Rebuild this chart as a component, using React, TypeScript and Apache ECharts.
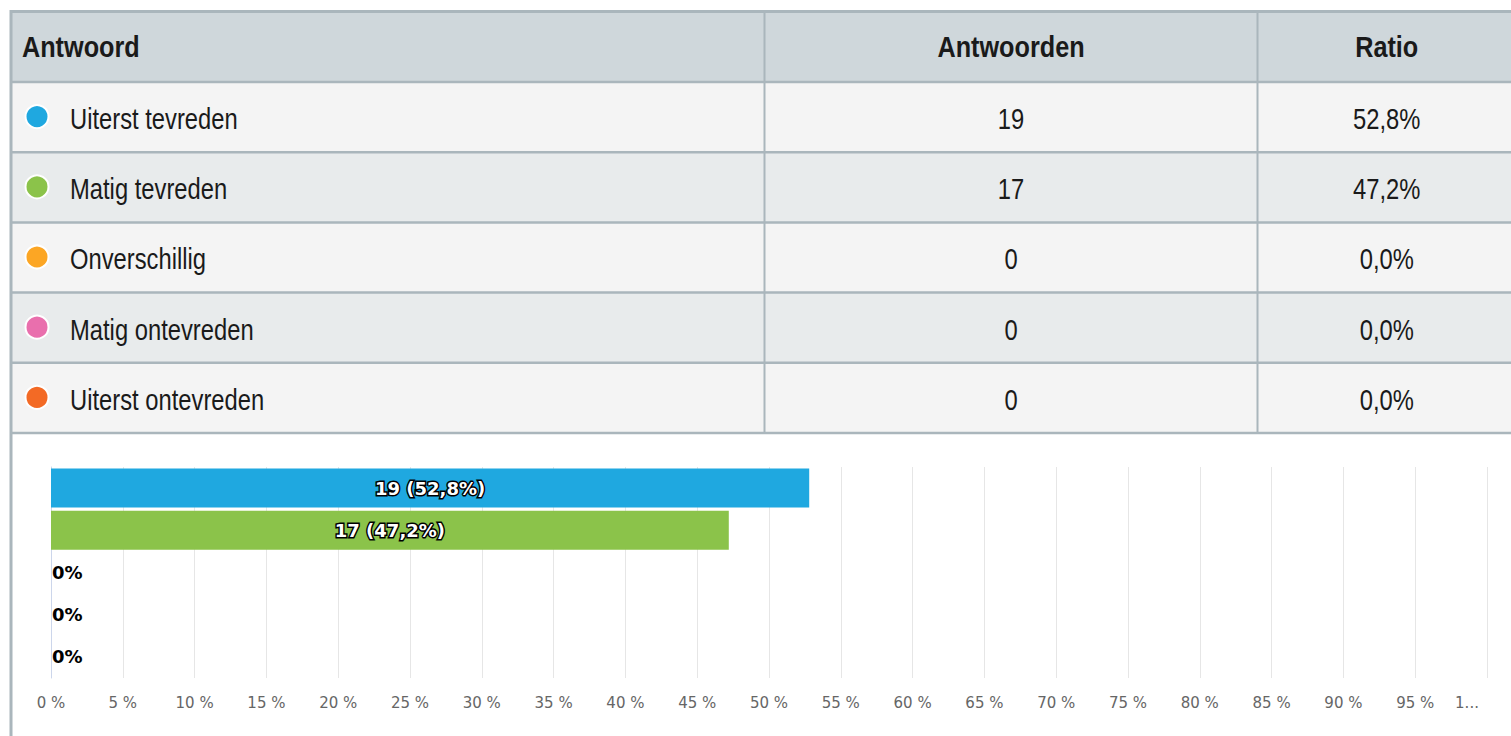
import React, { useEffect, useRef } from "react";
import * as echarts from "echarts";

const headers = ["Antwoord", "Antwoorden", "Ratio"];
const categories = [
  "Uiterst tevreden",
  "Matig tevreden",
  "Onverschillig",
  "Matig ontevreden",
  "Uiterst ontevreden",
];
const counts = [19, 17, 0, 0, 0];
const ratios = [52.8, 47.2, 0, 0, 0];
const colors = ["#1fa8e0", "#8bc34a", "#fca624", "#e96fad", "#f36a25"];
const tickLabels = [
  "0 %", "5 %", "10 %", "15 %", "20 %", "25 %", "30 %", "35 %", "40 %", "45 %", "50 %",
  "55 %", "60 %", "65 %", "70 %", "75 %", "80 %", "85 %", "90 %", "95 %", "1...",
];

const fmtRatio = (v: number) => v.toFixed(1).replace(".", ",") + "%";

const BORDER = "#aab6bc";
const TFONT = "'Liberation Sans', Arial, sans-serif";

function buildTable() {
  const els: any[] = [];
  const left = 10;
  const top = 10;
  const headerH = 72;
  const rowH = 70.2;
  const col1 = 764.5;
  const col2 = 1257.5;
  const tableRight = 1520;
  const tableBottom = top + headerH + rowH * categories.length;

  els.push({
    type: "rect",
    shape: { x: left, y: top, width: tableRight - left, height: headerH },
    style: { fill: "#cfd7db" },
  });
  categories.forEach((_, i) => {
    els.push({
      type: "rect",
      shape: { x: left, y: top + headerH + i * rowH, width: tableRight - left, height: rowH },
      style: { fill: i % 2 === 0 ? "#f4f4f4" : "#e8ebec" },
    });
  });
  const hy = [top + 1.5, top + headerH];
  categories.forEach((_, i) => hy.push(top + headerH + (i + 1) * rowH));
  hy.forEach((y, i) => {
    els.push({
      type: "line",
      shape: { x1: left, y1: y, x2: 1511, y2: y },
      style: { stroke: BORDER, lineWidth: i === 0 ? 3 : 2.5 },
    });
  });
  els.push({
    type: "line",
    shape: { x1: left + 1, y1: top, x2: left + 1, y2: 736 },
    style: { stroke: BORDER, lineWidth: 3 },
  });
  [col1, col2].forEach((x) => {
    els.push({
      type: "line",
      shape: { x1: x, y1: top, x2: x, y2: tableBottom },
      style: { stroke: BORDER, lineWidth: 2 },
    });
  });

  const hCy = top + headerH / 2 + 1;
  const hx = [22, (col1 + col2) / 2, (col2 + tableRight) / 2 - 2];
  const hAlign = ["left", "center", "center"];
  headers.forEach((h, i) => {
    els.push({
      type: "text",
      x: hx[i],
      y: hCy,
      scaleX: 0.87,
      style: {
        text: h,
        fill: "#1a1a1a",
        fontSize: 29,
        fontWeight: "bold",
        fontFamily: TFONT,
        align: hAlign[i],
        textAlign: hAlign[i],
        verticalAlign: "middle",
        textVerticalAlign: "middle",
      },
    });
  });

  categories.forEach((c, i) => {
    const cy = top + headerH + i * rowH + rowH / 2;
    els.push({
      type: "circle",
      shape: { cx: 37, cy: cy - 0.5, r: 11.5 },
      style: { fill: colors[i], stroke: "#ffffff", lineWidth: 2 },
    });
    const cells = [c, String(counts[i]), fmtRatio(ratios[i])];
    const xs = [70, hx[1], hx[2]];
    cells.forEach((t, j) => {
      els.push({
        type: "text",
        x: xs[j],
        y: cy + 2,
        scaleX: 0.82,
        style: {
          text: t,
          fill: "#1a1a1a",
          fontSize: 29,
          fontFamily: TFONT,
          align: hAlign[j],
          textAlign: hAlign[j],
          verticalAlign: "middle",
          textVerticalAlign: "middle",
        },
      });
    });
  });
  return els;
}

export default function App() {
  const ref = useRef<HTMLDivElement>(null);
  useEffect(() => {
    if (!ref.current) return;
    const chart = echarts.init(ref.current, null, { renderer: "svg" });
    const data = ratios.map((v, i) => {
      const nonZero = counts[i] > 0;
      return {
        value: v,
        itemStyle: { color: colors[i] },
        label: nonZero
          ? {
              position: "inside",
              formatter: `${counts[i]} (${fmtRatio(ratios[i])})`,
              color: "#ffffff",
              textBorderColor: "#000000",
              textBorderWidth: 3,
            }
          : {
              position: "right",
              distance: 1,
              formatter: "0%",
              color: "#000000",
              textBorderWidth: 0,
            },
      };
    });
    chart.setOption({
      animation: false,
      backgroundColor: "#ffffff",
      textStyle: { fontFamily: "'DejaVu Sans', sans-serif" },
      graphic: { elements: buildTable() },
      grid: { left: 51, right: 24, top: 467, height: 211, containLabel: false },
      xAxis: {
        type: "value",
        min: 0,
        max: 100,
        interval: 5,
        axisLine: { show: false },
        axisTick: { show: false },
        splitLine: { show: true, lineStyle: { color: "#e6e6e6", width: 1 } },
        axisLabel: {
          color: "#666666",
          fontSize: 15,
          margin: 17,
          fontFamily: "'DejaVu Sans', sans-serif",
          formatter: (v: number) => {
            const idx = Math.round(v / 5);
            return idx === tickLabels.length - 1
              ? `{last|${tickLabels[idx]}}`
              : tickLabels[idx];
          },
          rich: {
            last: {
              color: "#666666",
              fontSize: 15,
              fontFamily: "'DejaVu Sans', sans-serif",
              padding: [0, 40, 0, 0],
            },
          },
        },
      },
      yAxis: {
        type: "category",
        inverse: true,
        data: categories,
        axisLabel: { show: false },
        axisTick: { show: false },
        axisLine: { show: true, lineStyle: { color: "#ccd6eb", width: 1 } },
        splitLine: { show: false },
      },
      series: [
        {
          type: "bar",
          data,
          barWidth: 39,
          label: {
            show: true,
            fontSize: 18,
            fontWeight: "bold",
            fontFamily: "'DejaVu Sans', sans-serif",
          },
        },
      ],
    });
    return () => chart.dispose();
  }, []);
  return (
    <div
      ref={ref}
      style={{ position: "absolute", left: 0, top: 0, width: 1511, height: 736 }}
    />
  );
}
